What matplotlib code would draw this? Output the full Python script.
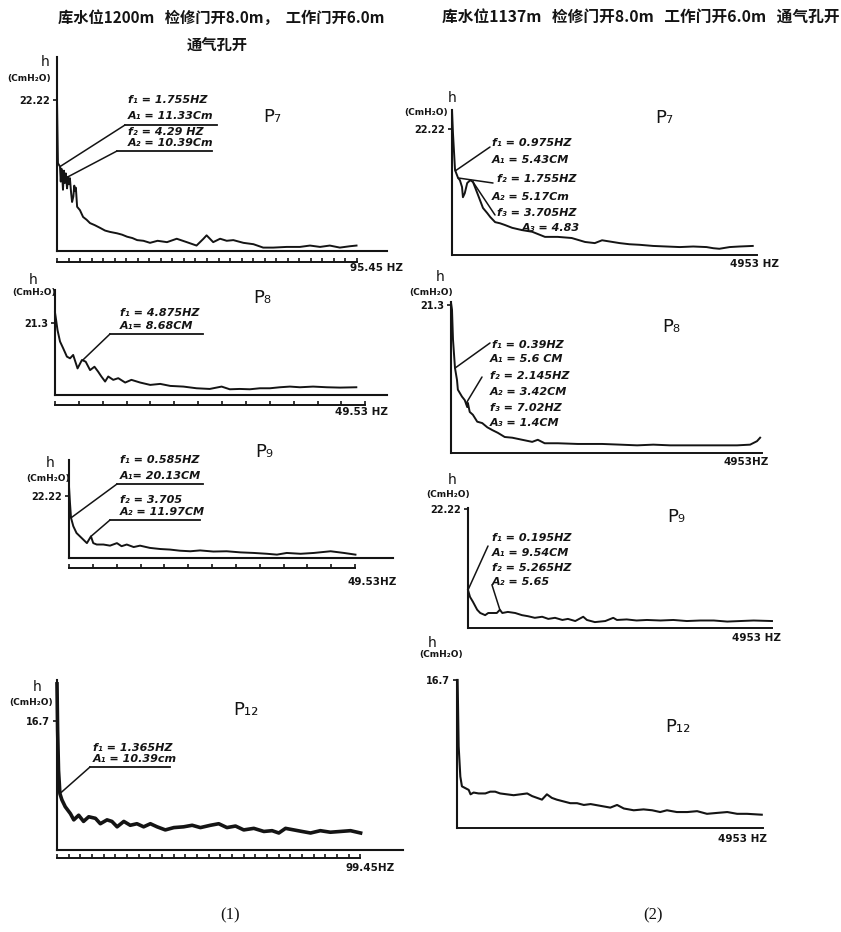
import numpy as np
import matplotlib
matplotlib.use("Agg")
import matplotlib.pyplot as plt
from matplotlib.lines import Line2D

# ---------------------------------------------------------------- data
# Group (1): reservoir level 1200 m  (frequency in Hz, amplitude h in cm)
l7_freq = [0, 0.3, 0.95, 1.2, 1.4, 1.6, 1.9, 2.2, 2.5, 2.8, 3.2, 3.5, 3.8, 4.1, 4.5, 4.8,
           5.2, 5.5, 5.7, 6.0, 6.4, 7.3, 8.3, 9.4, 10.5, 12.0, 13.7, 15.3, 16.9, 19.1, 20.7,
           22.3, 24.0, 25.5, 27.5, 29.6, 32.0, 35.0, 38.1, 41.3, 44.4, 46.6, 47.6, 49.7,
           51.9, 54.0, 56.1, 59.3, 62.5, 65.6, 68.8, 73.1, 77.3, 80.5, 83.7, 86.8, 90.0,
           93.2, 95.3]
l7_amp = [22.2, 12.9, 12.4, 10.2, 12.1, 11.6, 9.0, 11.8, 10.0, 11.4, 9.2, 10.9, 9.8, 10.7,
          8.5, 7.2, 8.0, 9.6, 8.8, 9.3, 6.5, 6.0, 5.0, 4.6, 4.1, 3.8, 3.4, 3.0, 2.8, 2.6,
          2.4, 2.1, 1.9, 1.6, 1.5, 1.2, 1.5, 1.3, 1.8, 1.3, 0.8, 1.8, 2.3, 1.3, 1.8, 1.5,
          1.6, 1.2, 1.0, 0.5, 0.5, 0.6, 0.6, 0.8, 0.6, 0.8, 0.5, 0.7, 0.8]

l8_freq = [0, 0.16, 0.4, 0.8, 1.3, 1.9, 2.4, 2.9, 3.6, 4.3, 4.9, 5.6, 6.3, 6.9, 7.4, 8.0,
           8.5, 9.3, 10.1, 11.2, 12.2, 13.6, 15.2, 16.8, 18.4, 20.5, 22.6, 24.7, 26.6, 27.9,
           29.5, 31.1, 32.7, 34.3, 35.9, 37.5, 39.1, 41.2, 43.4, 45.5, 48.1]
l8_amp = [24.5, 22.5, 19.3, 15.9, 13.9, 11.4, 10.9, 11.9, 7.9, 10.4, 9.9, 7.4, 8.4, 6.9,
          5.5, 4.0, 5.5, 4.5, 5.0, 3.7, 4.5, 3.7, 3.0, 3.3, 2.7, 2.5, 2.0, 1.8, 2.5, 1.7,
          1.8, 1.7, 2.0, 2.0, 2.3, 2.5, 2.3, 2.5, 2.3, 2.2, 2.3]

l9_freq = [0, 0.17, 0.35, 0.75, 1.3, 2.2, 3.1, 3.8, 4.2, 4.8, 5.95, 7.1, 8.3, 9.1, 10.0,
           11.2, 12.3, 14.0, 15.8, 17.5, 19.2, 21.0, 22.7, 25.0, 27.3, 29.7, 32.0, 34.3,
           36.0, 37.7, 40.1, 42.4, 45.3, 47.6, 49.6]
l9_amp = [25.5, 19.6, 14.3, 11.3, 8.9, 7.1, 5.3, 7.7, 5.3, 4.8, 4.8, 4.4, 5.3, 4.2, 4.8,
          3.9, 4.4, 3.6, 3.2, 3.0, 2.6, 2.4, 2.7, 2.3, 2.4, 2.0, 1.8, 1.5, 1.2, 1.8, 1.5,
          1.8, 2.4, 1.8, 1.2]

l12_freq = [0, 0.2, 0.5, 0.95, 1.6, 2.7, 4.4, 5.5, 7.1, 8.7, 10.4, 12.6, 14.2, 16.4, 18.0,
            19.7, 21.9, 24.0, 26.2, 28.4, 30.6, 32.8, 35.5, 38.3, 41.5, 44.3, 47.0, 50.3,
            53.0, 55.7, 58.5, 61.2, 64.5, 67.8, 70.5, 72.7, 74.9, 77.6, 80.3, 83.1, 86.3,
            89.6, 92.9, 96.2, 99.5]
l12_amp = [21.5, 15.5, 10.3, 7.3, 6.5, 5.6, 4.7, 3.9, 4.5, 3.7, 4.3, 4.1, 3.4, 3.9, 3.7,
           3.0, 3.7, 3.2, 3.4, 3.0, 3.4, 3.0, 2.6, 2.9, 3.0, 3.2, 2.9, 3.2, 3.4, 2.9, 3.1,
           2.6, 2.8, 2.4, 2.5, 2.2, 2.8, 2.6, 2.4, 2.2, 2.5, 2.3, 2.4, 2.5, 2.2]

# Group (2): reservoir level 1137 m
r7_freq = [0, 0.16, 0.5, 0.82, 1.0, 1.3, 1.65, 1.8, 2.1, 2.5, 3.0, 3.45, 4.1, 4.6, 5.1,
           5.8, 6.3, 7.1, 7.9, 8.7, 9.9, 11.5, 13.2, 15.3, 17.4, 19.7, 21.9, 23.5, 24.7,
           27.6, 29.2, 30.9, 33.1, 35.3, 37.5, 39.7, 41.9, 43.0, 44.0, 45.7, 47.3, 49.5]
r7_amp = [25.6, 21.5, 15.0, 14.1, 13.6, 13.2, 12.0, 10.2, 10.9, 12.7, 13.2, 12.9, 11.1,
          9.7, 8.3, 7.4, 6.7, 5.8, 5.6, 5.3, 4.8, 4.4, 4.1, 3.2, 3.2, 3.0, 2.3, 2.1, 2.6,
          2.1, 1.9, 1.8, 1.6, 1.5, 1.4, 1.5, 1.4, 1.2, 1.1, 1.4, 1.5, 1.6]

r8_freq = [0, 0.16, 0.32, 0.64, 0.96, 1.1, 1.76, 2.2, 2.6, 2.7, 3.0, 3.5, 4.2, 5.0, 5.8,
           6.6, 7.5, 8.6, 9.8, 11.4, 13.0, 13.9, 15.0, 17.1, 20.3, 24.2, 27.1, 29.8, 32.4,
           35.1, 37.8, 40.4, 43.1, 45.8, 47.9, 49.0, 49.5]
r8_amp = [21.6, 20.6, 16.3, 12.2, 10.5, 9.1, 8.1, 7.6, 6.6, 7.2, 5.9, 5.5, 4.5, 4.3, 3.7,
          3.3, 2.9, 2.3, 2.2, 1.9, 1.6, 1.9, 1.4, 1.4, 1.3, 1.3, 1.2, 1.1, 1.2, 1.1, 1.1,
          1.1, 1.1, 1.1, 1.2, 1.7, 2.2]

r9_freq = [0, 0.33, 0.8, 1.5, 2.0, 2.8, 3.3, 3.9, 4.7, 5.2, 5.6, 6.5, 7.7, 8.8, 9.8, 10.9,
           12.1, 13.1, 14.2, 15.4, 16.3, 17.5, 18.8, 19.4, 20.7, 22.4, 23.7, 24.3, 25.9,
           27.5, 29.2, 31.4, 33.5, 35.7, 37.9, 40.1, 42.3, 44.4, 46.6, 49.6]
r9_amp = [7.1, 5.8, 4.9, 3.4, 2.8, 2.4, 2.8, 2.8, 2.8, 3.4, 2.8, 3.0, 2.8, 2.4, 2.2, 1.9,
          2.1, 1.7, 1.9, 1.5, 1.7, 1.3, 2.1, 1.5, 1.1, 1.3, 1.9, 1.5, 1.6, 1.4, 1.5, 1.4,
          1.5, 1.3, 1.4, 1.4, 1.2, 1.3, 1.4, 1.3]

r12_freq = [0.1, 0.27, 0.54, 0.8, 1.35, 1.9, 2.2, 2.7, 3.5, 4.6, 5.4, 6.2, 7.0, 8.1, 9.2,
            10.3, 11.4, 12.2, 13.0, 13.8, 14.6, 15.4, 16.2, 17.3, 18.4, 19.5, 20.6, 21.7,
            23.3, 24.9, 26.0, 27.1, 28.7, 30.3, 31.7, 33.0, 34.1, 35.7, 37.4, 39.0, 40.6,
            42.2, 43.9, 45.5, 47.1, 49.5]
r12_amp = [16.7, 9.2, 5.8, 4.7, 4.5, 4.3, 3.8, 4.0, 3.9, 3.9, 4.1, 4.1, 3.9, 3.8, 3.7,
           3.8, 3.9, 3.6, 3.4, 3.2, 3.8, 3.4, 3.2, 3.0, 2.8, 2.8, 2.6, 2.7, 2.5, 2.3, 2.6,
           2.2, 2.0, 2.1, 2.0, 1.8, 2.0, 1.8, 1.8, 1.9, 1.6, 1.7, 1.8, 1.6, 1.6, 1.5]

# scale labels
ytick_vals = {"l7": 22.22, "l8": 21.3, "l9": 22.22, "l12": 16.7,
              "r7": 22.22, "r8": 21.3, "r9": 22.22, "r12": 16.7}
fend_vals = {"l7": 95.45, "l8": 49.53, "l9": 49.53, "l12": 99.45,
             "r7": 49.53, "r8": 49.53, "r9": 49.53, "r12": 49.53}
xend_labels = {"l7": "95.45 HZ", "l8": "49.53 HZ", "l9": "49.53HZ", "l12": "99.45HZ",
               "r7": "4953 HZ", "r8": "4953HZ", "r9": "4953 HZ", "r12": "4953 HZ"}
point_labels = {"l7": "P₇", "l8": "P₈", "l9": "P₉", "l12": "P₁₂",
                "r7": "P₇", "r8": "P₈", "r9": "P₉", "r12": "P₁₂"}

# peak annotations (text lines)
notes_text = {
    "l7": ["f₁ = 1.755HZ", "A₁ = 11.33Cm", "f₂ = 4.29 HZ", "A₂ = 10.39Cm"],
    "l8": ["f₁ = 4.875HZ", "A₁= 8.68CM"],
    "l9": ["f₁ = 0.585HZ", "A₁= 20.13CM", "f₂ = 3.705", "A₂ = 11.97CM"],
    "l12": ["f₁ = 1.365HZ", "A₁ = 10.39cm"],
    "r7": ["f₁ = 0.975HZ", "A₁ = 5.43CM", "f₂ = 1.755HZ", "A₂ = 5.17Cm",
           "f₃ = 3.705HZ", "A₃ = 4.83"],
    "r8": ["f₁ = 0.39HZ", "A₁ = 5.6 CM", "f₂ = 2.145HZ", "A₂ = 3.42CM",
           "f₃ = 7.02HZ", "A₃ = 1.4CM"],
    "r9": ["f₁ = 0.195HZ", "A₁ = 9.54CM", "f₂ = 5.265HZ", "A₂ = 5.65"],
    "r12": [],
}

header_left_1 = "库水位1200m   检修门开8.0m，  工作门开6.0m"
header_left_2 = "通气孔开"
header_right = "库水位1137m   检修门开8.0m   工作门开6.0m   通气孔开"
group_labels = ["(1)", "(2)"]
h_label = "h"
unit_label = "(CmH₂O)"

# ---------------------------------------------------------------- layout
W, H = 841, 932
INK = "#141414"
FONT = ["Liberation Sans Narrow", "DejaVu Sans"]
CJK = ["Noto Sans CJK SC", "DejaVu Sans"]

series = {"l7": (l7_freq, l7_amp), "l8": (l8_freq, l8_amp), "l9": (l9_freq, l9_amp),
          "l12": (l12_freq, l12_amp), "r7": (r7_freq, r7_amp), "r8": (r8_freq, r8_amp),
          "r9": (r9_freq, r9_amp), "r12": (r12_freq, r12_amp)}

# box = (left, right, top, bottom) in px; tick axis for left column
layout = {
    "l7": dict(box=(57, 387, 57, 251), xmax=105.0, ymax=28.5, lw=1.4, tick_out=7.9, nint=26,
               h=(45, 62), unit=(29, 79), xl=(350, 268), pl=(263, 117),
               nxy=[(128, 100), (128, 116), (128, 132), (128, 143)],
               under=[(125, 217, 125), (117, 212, 151)],
               lead=[(125, 125, 0.95), (117, 151, 3.5)]),
    "l8": dict(box=(55, 387, 290, 395), xmax=53.0, ymax=31.2, lw=1.4, tick_out=7.2, nint=13,
               h=(33, 280), unit=(34, 293), xl=(335, 412), pl=(253, 298),
               nxy=[(120, 313), (120, 326)],
               under=[(110, 203, 334)],
               lead=[(110, 334, 4.4)]),
    "l9": dict(box=(69, 393, 460, 558), xmax=56.1, ymax=34.9, lw=1.4, tick_out=7.2, nint=12,
               h=(50, 463), unit=(48, 478), xl=(348, 582), pl=(255, 452),
               nxy=[(120, 460), (120, 476), (120, 500), (120, 512)],
               under=[(117, 203, 484), (110, 200, 520)],
               lead=[(117, 484, 0.35), (110, 520, 3.8)]),
    "l12": dict(box=(57, 403, 680, 850), xmax=113.4, ymax=22.0, lw=2.6, tick_out=5.8, nint=26,
                h=(37, 687), unit=(31, 702), xl=(345, 868), pl=(233, 710),
                nxy=[(93, 748), (93, 759)],
                under=[(90, 170, 767)],
                lead=[(90, 767, 0.95)]),
    "r7": dict(box=(452, 757, 110, 255), xmax=50.2, ymax=25.6, lw=1.4, tick_out=None, nint=0,
               h=(452, 98), unit=(426, 113), xl=(730, 264), pl=(655, 118),
               nxy=[(492, 143), (492, 160), (497, 179), (492, 197), (497, 213), (522, 228)],
               under=[],
               lead=[(490, 147, 0.55), (493, 183, 1.0), (495, 215, 3.45)]),
    "r8": dict(box=(451, 762, 302, 453), xmax=49.8, ymax=21.7, lw=1.4, tick_out=None, nint=0,
               h=(440, 277), unit=(431, 292), xl=(723, 462), pl=(662, 327),
               nxy=[(492, 345), (490, 359), (490, 376), (490, 392), (490, 408), (490, 423)],
               under=[],
               lead=[(490, 343, 0.64), (482, 377, 2.4)]),
    "r9": dict(box=(468, 772, 508, 628), xmax=49.6, ymax=22.4, lw=1.4, tick_out=None, nint=0,
               h=(452, 480), unit=(448, 495), xl=(732, 638), pl=(667, 517),
               nxy=[(492, 538), (492, 553), (492, 568), (492, 582)],
               under=[],
               lead=[(488, 546, 0.0), (492, 585, 5.2)]),
    "r12": dict(box=(457, 763, 680, 828), xmax=49.7, ymax=16.7, lw=1.5, tick_out=None, nint=0,
                h=(432, 643), unit=(441, 655), xl=(718, 839), pl=(665, 727),
                nxy=[], under=[], lead=[]),
}


def fx(x):
    return x / W


def fy(y):
    return 1 - y / H


fig = plt.figure(figsize=(W / 100, H / 100), dpi=100)
fig.patch.set_facecolor("white")


def ftext(x, y, s, size=7.5, ha="left", va="center", family=FONT, weight="bold", **kw):
    fig.text(fx(x), fy(y), s, fontsize=size, ha=ha, va=va, family=family,
             fontweight=weight, color=INK, **kw)


for key, (freq, amp) in series.items():
    L = layout[key]
    l, r, t, b = L["box"]
    ax = fig.add_axes([fx(l), fy(b), (r - l) / W, (b - t) / H])
    ax.patch.set_alpha(0)
    ax.set_xlim(0, L["xmax"])
    ax.set_ylim(0, L["ymax"])
    ax.plot(freq, amp, color=INK, lw=L["lw"], solid_joinstyle="round", clip_on=False)
    for s in ("top", "right"):
        ax.spines[s].set_visible(False)
    ax.spines["left"].set_linewidth(1.5)
    ax.spines["left"].set_color(INK)
    ax.spines["bottom"].set_linewidth(1.4)
    ax.spines["bottom"].set_color(INK)
    ax.set_yticks([ytick_vals[key]])
    ax.set_yticklabels([f"{ytick_vals[key]:g}"])
    ax.tick_params(axis="y", direction="out", length=3, width=1.2, pad=2, labelsize=7,
                   colors=INK)
    for lab in ax.get_yticklabels():
        lab.set_fontfamily(FONT)
        lab.set_fontweight("bold")
    if L["tick_out"] is not None:
        ax.axhline(0, color=INK, lw=1.5, clip_on=False)
        ax.spines["bottom"].set_position(("outward", L["tick_out"]))
        ax.spines["bottom"].set_bounds(0, fend_vals[key])
        ax.set_xticks(np.linspace(0, fend_vals[key], L["nint"] + 1))
        ax.tick_params(axis="x", direction="in", length=3, width=1.2, labelbottom=False,
                       colors=INK)
    else:
        ax.set_xticks([])

    # labels
    ftext(*L["h"], h_label, size=10, ha="center", weight="normal")
    ftext(*L["unit"], unit_label, size=6.5, ha="center")
    ftext(*L["xl"], xend_labels[key], size=7.5)
    ftext(*L["pl"], point_labels[key], size=13, weight="normal")

    # peak annotations
    for s, (x, y) in zip(notes_text[key], L["nxy"]):
        ftext(x, y, s, size=8, style="italic")
    for x0, x1, y in L["under"]:
        fig.add_artist(Line2D([fx(x0), fx(x1)], [fy(y), fy(y)], transform=fig.transFigure,
                              color=INK, lw=1.3))
    for x, y, f_anchor in L["lead"]:
        a = float(np.interp(f_anchor, freq, amp))
        ax.annotate("", xy=(f_anchor, a), xycoords="data",
                    xytext=(fx(x), fy(y)), textcoords="figure fraction",
                    arrowprops=dict(arrowstyle="-", color=INK, lw=1.1,
                                    shrinkA=0, shrinkB=0),
                    annotation_clip=False)

# headers
ftext(221, 18, header_left_1, size=11, ha="center", family=CJK)
ftext(217, 45, header_left_2, size=11, ha="center", family=CJK)
ftext(641, 18, header_right, size=11.3, ha="center", family=CJK)
ftext(230, 915, group_labels[0], size=12, ha="center", weight="normal",
      family=["Liberation Serif", "DejaVu Serif"])
ftext(653, 915, group_labels[1], size=12, ha="center", weight="normal",
      family=["Liberation Serif", "DejaVu Serif"])

fig.savefig("out.png", dpi=100, facecolor="white")
